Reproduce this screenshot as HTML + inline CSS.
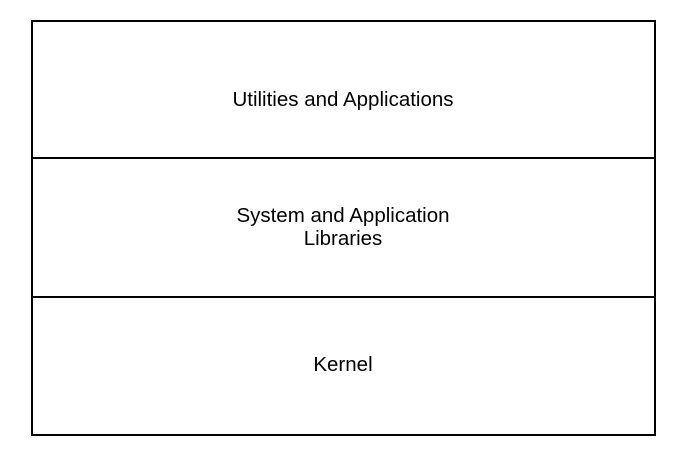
<!DOCTYPE html>
<html><head><meta charset="utf-8"><style>
html,body{margin:0;padding:0;background:#fff;width:685px;height:456px;overflow:hidden}
.b{position:absolute;background:#000}
.t{position:absolute;left:31px;width:624px;text-align:center;font-family:"Liberation Sans",sans-serif;font-size:20.5px;line-height:23px;color:#000}
</style></head><body>
<div class="b" style="left:31px;top:20px;width:625px;height:2px"></div>
<div class="b" style="left:31px;top:157px;width:625px;height:2px"></div>
<div class="b" style="left:31px;top:296px;width:625px;height:2px"></div>
<div class="b" style="left:31px;top:434px;width:625px;height:2px"></div>
<div class="b" style="left:31px;top:20px;width:2px;height:416px"></div>
<div class="b" style="left:654px;top:20px;width:2px;height:416px"></div>
<div class="t" style="top:88px">Utilities and Applications</div>
<div class="t" style="top:204px">System and Application<br>Libraries</div>
<div class="t" style="top:353px">Kernel</div>
</body></html>
